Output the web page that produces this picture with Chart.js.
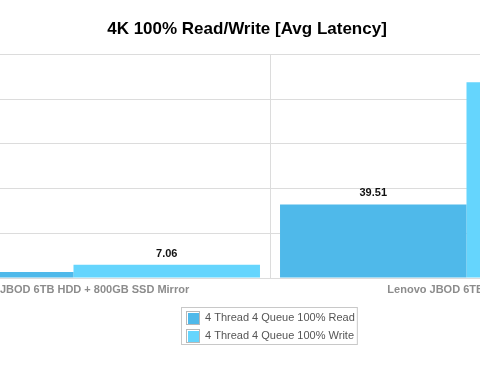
<!DOCTYPE html>
<html>
<head>
<meta charset="utf-8">
<script src="https://cdn.jsdelivr.net/npm/chart.js@4/dist/chart.umd.min.js"></script>
<style>
  html, body { margin: 0; padding: 0; background: #fff; overflow: hidden; }
  #wrap { position: relative; width: 480px; height: 373px; overflow: hidden; }
  /* the reference is a crop of a wider chart, so the canvas hangs off both sides */
  #chart { position: absolute; left: -169px; top: 0; }
</style>
</head>
<body>
<div id="wrap"><canvas id="chart" width="832" height="373"></canvas></div>
<script>
const categories = ['Lenovo JBOD 6TB HDD + 800GB SSD Mirror', 'Lenovo JBOD 6TB HDD Mirror'];
const seriesNames = ['4 Thread 4 Queue 100% Read', '4 Thread 4 Queue 100% Write'];
const readLatency = [3.21, 39.51];
const writeLatency = [7.06, 105.1];
const yTicks = [0, 24, 48, 72, 96, 120];

const readColor = '#4fb9ea';
const writeColor = '#65d5fd';
const gridColor = '#dcdcdc';
const fontFamily = '"Liberation Sans", Helvetica, Arial, sans-serif';

// numbers above each bar
const valueLabels = {
    id: 'valueLabels',
    afterDatasetsDraw(chart) {
        const ctx = chart.ctx;
        ctx.save();
        ctx.font = 'bold 11px ' + fontFamily;
        ctx.fillStyle = '#111';
        ctx.textAlign = 'center';
        ctx.textBaseline = 'middle';
        chart.data.datasets.forEach((ds, i) => {
            chart.getDatasetMeta(i).data.forEach((bar, j) => {
                ctx.fillText(ds.data[j].toFixed(2), bar.x, bar.y - 11);
            });
        });
        ctx.restore();
    }
};

// stacked legend in a thin grey box, under the category labels
const boxLegend = {
    id: 'boxLegend',
    afterDraw(chart) {
        const ctx = chart.ctx;
        const area = chart.chartArea;
        const xScale = chart.scales.x;
        const box = 13, gap = 6, rowH = 18;
        ctx.save();
        ctx.font = '11px ' + fontFamily;
        const textW = Math.max(...chart.data.datasets.map(ds => ctx.measureText(ds.label).width));
        const itemW = box + gap + textW;
        const x0 = Math.round((area.left + area.right) / 2 - itemW / 2);
        const y0 = xScale.bottom + 12;
        const n = chart.data.datasets.length;

        ctx.strokeStyle = '#c8c8c8';
        ctx.lineWidth = 1;
        ctx.strokeRect(x0 - 4.5, y0 - 9.5, itemW + 7, rowH * (n - 1) + 19);

        ctx.textAlign = 'left';
        ctx.textBaseline = 'middle';
        chart.data.datasets.forEach((ds, i) => {
            const cy = y0 + i * rowH;
            const by = Math.round(cy - box / 2);
            ctx.strokeStyle = '#b8b8b8';
            ctx.strokeRect(x0 + 0.5, by + 0.5, box, box);
            ctx.fillStyle = ds.backgroundColor;
            ctx.fillRect(x0 + 2, by + 2, box - 2, box - 2);
            ctx.fillStyle = '#555';
            ctx.fillText(ds.label, x0 + box + gap, cy + 0.5);
        });
        ctx.restore();
    }
};

new Chart(document.getElementById('chart'), {
    type: 'bar',
    data: {
        labels: categories,
        datasets: [
            { label: seriesNames[0], data: readLatency, backgroundColor: readColor },
            { label: seriesNames[1], data: writeLatency, backgroundColor: writeColor }
        ]
    },
    options: {
        responsive: false,
        animation: false,
        devicePixelRatio: 1,
        layout: { padding: { left: 0, right: 0, top: 0, bottom: 68 } },
        datasets: {
            bar: { barPercentage: 1, categoryPercentage: 0.949, borderWidth: 0 }
        },
        plugins: {
            legend: { display: false },
            tooltip: { enabled: false },
            title: {
                display: true,
                text: '4K 100% Read/Write [Avg Latency]',
                color: '#000',
                font: { family: fontFamily, size: 17, weight: 'bold', lineHeight: 1.2 },
                padding: { top: 19, bottom: 15 }
            }
        },
        scales: {
            x: {
                grid: { color: gridColor, drawTicks: false },
                border: { color: gridColor },
                ticks: {
                    color: '#8c8c8c',
                    font: { family: fontFamily, size: 11, weight: 'bold' },
                    padding: 5,
                    maxRotation: 0,
                    autoSkip: false
                },
                afterFit: axis => { axis.height = 27; }
            },
            y: {
                min: yTicks[0],
                max: yTicks[yTicks.length - 1],
                grid: { color: gridColor, drawTicks: false },
                border: { display: false },
                ticks: { display: false, stepSize: yTicks[1] - yTicks[0] },
                afterFit: axis => { axis.width = 46; }
            }
        }
    },
    plugins: [valueLabels, boxLegend]
});
</script>
</body>
</html>
